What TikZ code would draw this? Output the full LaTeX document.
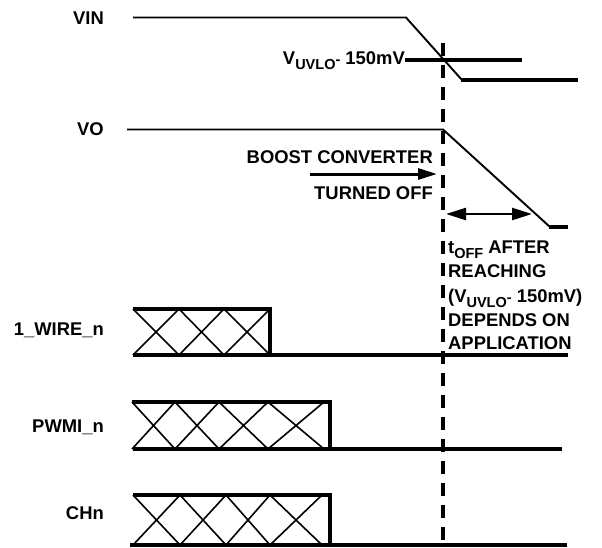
\documentclass[tikz,border=0pt]{standalone}
\usepackage{fontspec}
\setmainfont{Liberation Sans}
\usetikzlibrary{arrows.meta}
\newcommand{\mainsz}{\fontsize{18.4}{22}\selectfont\bfseries}
\newcommand{\sbs}[1]{\raisebox{-5pt}{\fontsize{14.5}{15}\selectfont\bfseries #1}}
\newcommand{\hyph}{{\fontsize{14.5}{15}\selectfont\bfseries -}}
\begin{document}
\begin{tikzpicture}[x=1pt,y=-1pt,
  rlbl/.style={anchor=base east,inner sep=0pt,font=\mainsz},
  llbl/.style={anchor=base west,inner sep=0pt,font=\mainsz},
  sigthin/.style={line width=1.9pt,line join=miter},
  sigthick/.style={line width=3.1pt},
  diag/.style={line width=1.6pt},
  vline/.style={line width=3.1pt,dash pattern=on 13pt off 9pt},
  arr/.style={line width=3pt,-{Triangle[length=19pt,width=11pt]}},
  darr/.style={line width=2.5pt,{Triangle[length=20pt,width=12pt]}-{Triangle[length=20pt,width=12pt]}}
]
\useasboundingbox (0,0) rectangle (602,547);

% labels
\node[rlbl] (vin) at (104,24) {VIN};
\node[rlbl] (vo) at (104,135) {VO};
\node[rlbl] (wire) at (104,335) {1\_WIRE\_n};
\node[rlbl] (pwmi) at (104,432) {PWMI\_n};
\node[rlbl] (chn) at (104,519) {CHn};

% dashed reference line
\draw[vline] (443,43) -- (443,547);

% VIN
\draw[sigthin] (133,17.5) -- (406,17.5) -- (462,80);
\draw[sigthick] (461,80) -- (578,80);
\draw[sigthick] (405,60) -- (522,60);
\node[rlbl] (uvlo) at (405,64) {V\sbs{UVLO}\hyph\ 150mV};

% VO
\draw[sigthin] (127,129.5) -- (443,129.5) -- (550,227);
\draw[sigthick] (549,227) -- (568,227);

\node[rlbl] (boost) at (433,163) {BOOST CONVERTER};
\node[rlbl] (turned) at (433,199) {TURNED OFF};
\draw[arr] (310,174) -- (437,174);

\draw[darr] (446,214) -- (532,214);

\node[llbl] (t1) at (448,253) {t\sbs{OFF} AFTER};
\node[llbl] (t2) at (448,277) {REACHING};
\node[llbl] (t3) at (448,302) {(V\sbs{UVLO}\hyph\ 150mV)};
\node[llbl] (t4) at (448,326) {DEPENDS ON};
\node[llbl] (t5) at (448,349) {APPLICATION};

% 1_WIRE_n
\foreach \a/\b in {133/179,179/224,224/270}
  \draw[diag] (\a,309) -- (\b,355) (\a,355) -- (\b,309);
\draw[sigthick] (133,309) -- (270,309) -- (270,355);
\draw[sigthick] (133,355) -- (568,355);

% PWMI_n
\foreach \a/\b in {132/175,175/219,219/268,268/324}
  \draw[diag] (\a,402) -- (\b,449) (\a,449) -- (\b,402);
\draw[sigthick] (132,402) -- (330,402) -- (330,449);
\draw[sigthick] (133,449) -- (562,449);

% CHn
\foreach \a/\b in {133/180,180/226,226/270,270/322}
  \draw[diag] (\a,495) -- (\b,545) (\a,545) -- (\b,495);
\draw[sigthick] (133,495) -- (330,495) -- (330,545);
\draw[sigthick] (130,545) -- (567,545);
\end{tikzpicture}
\end{document}
